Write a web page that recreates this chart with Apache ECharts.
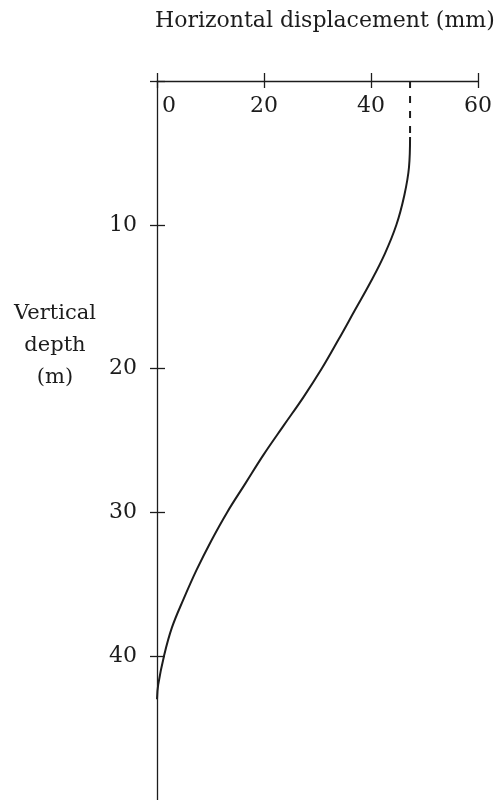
<!DOCTYPE html>
<html>
<head>
<meta charset="utf-8">
<script src="https://cdn.jsdelivr.net/npm/echarts@6/dist/echarts.min.js"></script>
<style>
  html, body { margin: 0; padding: 0; background: #fff; }
  #chart { width: 496px; height: 800px; }
</style>
</head>
<body>
<div id="chart"></div>
<script>
// Horizontal displacement profile versus depth
const depthM = [3.9, 6, 8, 10, 12, 14, 16, 18, 20, 22, 24, 26, 28, 30, 32, 34, 36, 38, 40, 42, 43];
const displacementMm = [47.3, 47.1, 46.2, 44.75, 42.6, 39.9, 36.9, 33.9, 30.8, 27.35, 23.6, 19.9, 16.5, 13.1, 10.1, 7.4, 5.0, 2.8, 1.3, 0.22, 0];
// extrapolated part near the surface (dashed)
const surfaceDepthM = [0, 3.9];
const surfaceDispMm = [47.3, 47.3];

const xTicks = [0, 20, 40, 60];
const yTicks = [10, 20, 30, 40];
const yTickMarks = [0, 10, 20, 30, 40];

const ink = '#1c1c1c';
const serif = '"DejaVu Serif", "Liberation Serif", serif';

const gridBox = { left: 157, top: 81, right: 18, height: 722 };

const chart = echarts.init(document.getElementById('chart'), null, { renderer: 'canvas' });

const baseX = {
  type: 'value', position: 'top', min: 0, max: 60, interval: 20,
  splitLine: { show: false }
};
const baseY = {
  type: 'value', position: 'left', inverse: true, min: 0, max: 50, interval: 10,
  splitLine: { show: false }
};

chart.setOption({
  animation: false,
  backgroundColor: '#fff',
  title: [
    {
      text: 'Horizontal displacement (mm)',
      left: 150, top: 5,
      textStyle: { fontFamily: serif, fontSize: 22, fontWeight: 'normal', color: ink }
    },
    {
      text: 'Vertical\ndepth\n(m)',
      left: 50, top: 293, textAlign: 'center',
      textStyle: { fontFamily: serif, fontSize: 21, fontWeight: 'normal', color: ink, lineHeight: 32, align: 'center' }
    }
  ],
  grid: [
    Object.assign({}, gridBox),
    Object.assign({}, gridBox)
  ],
  xAxis: [
    Object.assign({}, baseX, {
      gridIndex: 0,
      axisLine: { show: true, lineStyle: { color: ink, width: 1.3 } },
      axisTick: { show: true, inside: false, length: 8, customValues: xTicks, lineStyle: { color: ink, width: 1.3 } },
      axisLabel: {
        show: true, inside: true, margin: 14, customValues: xTicks,
        fontFamily: serif, fontSize: 22, color: ink,
        formatter: v => v === 0 ? '{z|0}' : String(v),
        rich: { z: { fontFamily: serif, fontSize: 22, color: ink, padding: [0, 0, 0, 24] } }
      }
    }),
    Object.assign({}, baseX, {
      gridIndex: 1,
      axisLine: { show: false },
      axisTick: { show: true, inside: true, length: 7, customValues: xTicks, lineStyle: { color: ink, width: 1.3 } },
      axisLabel: { show: false }
    })
  ],
  yAxis: [
    Object.assign({}, baseY, {
      gridIndex: 0,
      axisLine: { show: true, lineStyle: { color: ink, width: 1.3 } },
      axisTick: { show: true, inside: false, length: 7, customValues: yTickMarks, lineStyle: { color: ink, width: 1.3 } },
      axisLabel: {
        show: true, margin: 20, customValues: yTicks,
        fontFamily: serif, fontSize: 22, color: ink,
        formatter: v => yTicks.indexOf(v) >= 0 ? String(v) : ''
      }
    }),
    Object.assign({}, baseY, {
      gridIndex: 1,
      axisLine: { show: false },
      axisTick: { show: true, inside: true, length: 8, customValues: yTickMarks, lineStyle: { color: ink, width: 1.3 } },
      axisLabel: { show: false }
    })
  ],
  series: [
    {
      type: 'line', xAxisIndex: 0, yAxisIndex: 0,
      data: depthM.map((d, i) => [displacementMm[i], d]),
      smooth: 0.4,
      showSymbol: false,
      lineStyle: { color: ink, width: 2 }
    },
    {
      type: 'line', xAxisIndex: 0, yAxisIndex: 0,
      data: surfaceDepthM.map((d, i) => [surfaceDispMm[i], d]),
      showSymbol: false,
      lineStyle: { color: ink, width: 2, type: [7, 8] }
    }
  ]
});
</script>
</body>
</html>
